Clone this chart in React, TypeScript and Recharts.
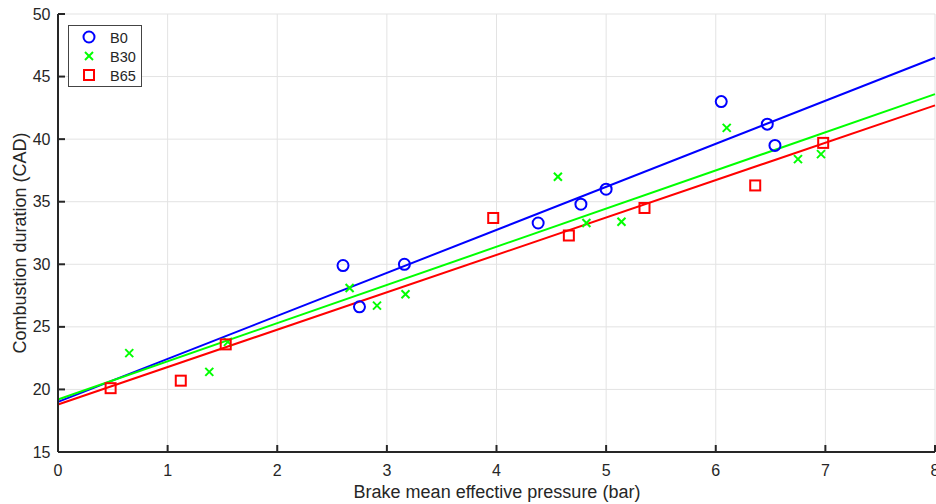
import React from 'react';
import {
  ComposedChart,
  Scatter,
  Line,
  XAxis,
  YAxis,
  CartesianGrid,
  Legend
} from 'recharts';

const b0X = [2.60, 2.75, 3.16, 4.38, 4.77, 5.00, 6.05, 6.47, 6.54];
const b0Y = [29.9, 26.6, 30.0, 33.3, 34.8, 36.0, 43.0, 41.2, 39.5];

const b30X = [0.65, 1.38, 1.55, 2.66, 2.91, 3.17, 4.56, 4.82, 5.14, 6.10, 6.75, 6.96];
const b30Y = [22.9, 21.4, 23.8, 28.1, 26.7, 27.6, 37.0, 33.3, 33.4, 40.9, 38.4, 38.8];

const b65X = [0.48, 1.12, 1.53, 3.97, 4.66, 5.35, 6.36, 6.98];
const b65Y = [20.1, 20.7, 23.6, 33.7, 32.3, 34.5, 36.3, 39.7];

// linear fit end points
const fitX = [0, 8];
const b0Fit = [19.0, 46.5];
const b30Fit = [19.2, 43.6];
const b65Fit = [18.8, 42.7];

const xTicks = [0, 1, 2, 3, 4, 5, 6, 7, 8];
const yTicks = [15, 20, 25, 30, 35, 40, 45, 50];

const BLUE = '#0000ff';
const GREEN = '#00ff00';
const RED = '#ff0000';
const INK = '#262626';
const FONT = '"Liberation Sans", Arial, sans-serif';

const zip = (xs: number[], ys: number[]) => xs.map((x, i) => ({ x, y: ys[i] }));

const CircleMark = (props: any) => (
  <circle cx={props.cx} cy={props.cy} r={5.5} fill="none" stroke={BLUE} strokeWidth={2} />
);
const CrossMark = (props: any) => {
  const { cx, cy } = props;
  const s = 4;
  return (
    <g stroke={GREEN} strokeWidth={2}>
      <line x1={cx - s} y1={cy - s} x2={cx + s} y2={cy + s} />
      <line x1={cx - s} y1={cy + s} x2={cx + s} y2={cy - s} />
    </g>
  );
};
const SquareMark = (props: any) => (
  <rect x={props.cx - 5} y={props.cy - 5} width={10} height={10} fill="none" stroke={RED} strokeWidth={2} />
);

const BottomTick = ({ x, y, payload }: any) => (
  <g>
    <line x1={x} x2={x} y1={y} y2={y - 7} stroke={INK} strokeWidth={2} />
    <text x={x} y={y + 24} textAnchor="middle" fill={INK} fontSize={16} fontFamily={FONT}>{payload.value}</text>
  </g>
);
const TopTick = ({ x, y }: any) => (
  <line x1={x} x2={x} y1={y} y2={y + 7} stroke={INK} strokeWidth={2} />
);
const LeftTick = ({ x, y, payload }: any) => (
  <g>
    <line x1={x} x2={x + 7} y1={y} y2={y} stroke={INK} strokeWidth={2} />
    <text x={x - 7.5} y={y + 5.5} textAnchor="end" fill={INK} fontSize={16} fontFamily={FONT}>{payload.value}</text>
  </g>
);
const RightTick = ({ x, y }: any) => (
  <line x1={x} x2={x - 7} y1={y} y2={y} stroke={INK} strokeWidth={2} />
);

const legendItems = [
  { name: 'B0', Mark: CircleMark },
  { name: 'B30', Mark: CrossMark },
  { name: 'B65', Mark: SquareMark }
];

const LegendBox = () => (
  <svg width={74} height={62} style={{ display: 'block' }}>
    <rect x={0.5} y={0.5} width={73} height={61} fill="#fff" stroke="#444" strokeWidth={1} />
    {legendItems.map((it, i) => (
      <g key={it.name}>
        <it.Mark cx={21} cy={12 + i * 19} />
        <text x={42} y={17.5 + i * 19} fill={INK} fontSize={14.5} fontFamily={FONT}>{it.name}</text>
      </g>
    ))}
  </svg>
);

export default function App() {
  return (
    <div style={{ position: 'absolute', left: 0, top: 0, width: 936, height: 504, background: '#fff' }}>
      <ComposedChart width={936} height={504} margin={{ top: 14, right: 1, bottom: 0, left: 0 }}>
        <CartesianGrid stroke="#e3e3e3" strokeWidth={1} />
        <XAxis
          type="number"
          dataKey="x"
          domain={[0, 8]}
          ticks={xTicks}
          height={52}
          axisLine={{ stroke: INK, strokeWidth: 2 }}
          tickLine={false}
          tickSize={0}
          tickMargin={0}
          tick={<BottomTick />}
          interval={0}
          label={{
            content: () => (
              <text x={497} y={498} textAnchor="middle" fill={INK} fontSize={18} fontFamily={FONT}>
                Brake mean effective pressure (bar)
              </text>
            )
          }}
        />
        <XAxis
          xAxisId="top"
          orientation="top"
          type="number"
          dataKey="x"
          domain={[0, 8]}
          ticks={xTicks}
          height={0}
          axisLine={{ stroke: INK, strokeWidth: 2 }}
          tickLine={false}
          tickSize={0}
          tickMargin={0}
          tick={<TopTick />}
          interval={0}
        />
        <YAxis
          type="number"
          domain={[15, 50]}
          ticks={yTicks}
          width={58}
          axisLine={{ stroke: INK, strokeWidth: 2 }}
          tickLine={false}
          tickSize={0}
          tickMargin={0}
          tick={<LeftTick />}
          interval={0}
          label={{
            content: () => (
              <text transform="translate(26,243) rotate(-90)" textAnchor="middle" fill={INK} fontSize={18} fontFamily={FONT}>
                Combustion duration (CAD)
              </text>
            )
          }}
        />
        <YAxis
          yAxisId="right"
          orientation="right"
          type="number"
          domain={[15, 50]}
          ticks={yTicks}
          width={0}
          axisLine={false}
          tickLine={false}
          tickSize={0}
          tickMargin={0}
          tick={<RightTick />}
          interval={0}
        />
        <Legend
          layout="horizontal"
          verticalAlign="middle"
          align="center"
          wrapperStyle={{ left: 68, top: 25, width: 74, height: 62 }}
          content={() => <LegendBox />}
        />
        <Scatter name="B0" data={zip(b0X, b0Y)} dataKey="y" shape={<CircleMark />} isAnimationActive={false} />
        <Scatter name="B30" data={zip(b30X, b30Y)} dataKey="y" shape={<CrossMark />} isAnimationActive={false} />
        <Scatter name="B65" data={zip(b65X, b65Y)} dataKey="y" shape={<SquareMark />} isAnimationActive={false} />
        <Line data={zip(fitX, b0Fit)} dataKey="y" type="linear" stroke={BLUE} strokeWidth={2} dot={false} activeDot={false} isAnimationActive={false} legendType="none" />
        <Line data={zip(fitX, b30Fit)} dataKey="y" type="linear" stroke={GREEN} strokeWidth={2} dot={false} activeDot={false} isAnimationActive={false} legendType="none" />
        <Line data={zip(fitX, b65Fit)} dataKey="y" type="linear" stroke={RED} strokeWidth={2} dot={false} activeDot={false} isAnimationActive={false} legendType="none" />
      </ComposedChart>
    </div>
  );
}
